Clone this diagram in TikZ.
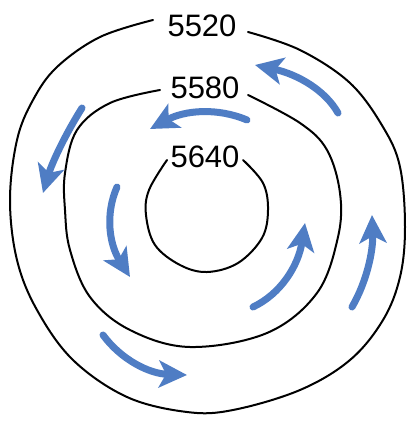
\documentclass[tikz,border=0pt]{standalone}
\usepackage{fontspec}
\setmainfont{Liberation Sans}
\usetikzlibrary{arrows.meta}
\definecolor{flow}{RGB}{79,125,196}
\tikzset{
  contour/.style={line width=2pt, black, line cap=round},
  flowarrow/.style={line width=7pt, flow, line cap=round,
    -{Stealth[length=28pt,width=27pt,inset=7pt]}},
  lbl/.style={font=\fontsize{31}{31}\selectfont, inner sep=0pt}
}
\begin{document}
\begin{tikzpicture}[x=1pt,y=-1pt]
\useasboundingbox (0,0) rectangle (414,421);
% outer contour 5520
\draw[contour] plot[smooth, tension=0.6] coordinates {
 (153,20) (100,37) (57,67) (33,100) (17,140) (10,200) (17,260) (37,310)
 (73,360) (127,397) (187,412) (233,410) (300,390) (350,360) (383,320)
 (400,277) (405,227) (400,167) (383,127) (350,83) (300,50) (248,32)};
% middle contour 5580
\draw[contour] plot[smooth, tension=0.6] coordinates {
 (160,90) (110,103) (77,130) (65,173) (65,210) (70,250) (90,297) (130,330)
 (190,347) (267,333) (317,293) (338,237) (340,193) (327,150) (300,123) (248,95)};
% inner contour 5640
\draw[contour] plot[smooth, tension=0.6] coordinates {
 (167,160) (149,190) (146,215) (155,245) (180,265) (207,272) (238,263)
 (262,238) (268,210) (263,183) (243,160)};
% labels
\node[lbl] (l5520) at (202,26) {5520};
\node[lbl] (l5580) at (205,88) {5580};
\node[lbl] (l5640) at (205,157) {5640};
% arrows
\draw[flowarrow] (338,113) .. controls (325.3,90.3) and (297.7,74.3) .. (255,65);
\draw[flowarrow] (247,120) .. controls (217,107.3) and (184.7,110.3) .. (150,129);
\draw[flowarrow] (82,108) .. controls (64.7,135.3) and (51.7,163.7) .. (43,193);
\draw[flowarrow] (117,187) .. controls (105,214.3) and (109.3,244.3) .. (130,277);
\draw[flowarrow] (103,335) .. controls (121.7,360.3) and (149.7,373.7) .. (187,375);
\draw[flowarrow] (253,307) .. controls (281,293.7) and (298.3,265.7) .. (305,223);
\draw[flowarrow] (352,307) .. controls (366.7,281.7) and (373.3,251) .. (372,215);
\end{tikzpicture}
\end{document}
